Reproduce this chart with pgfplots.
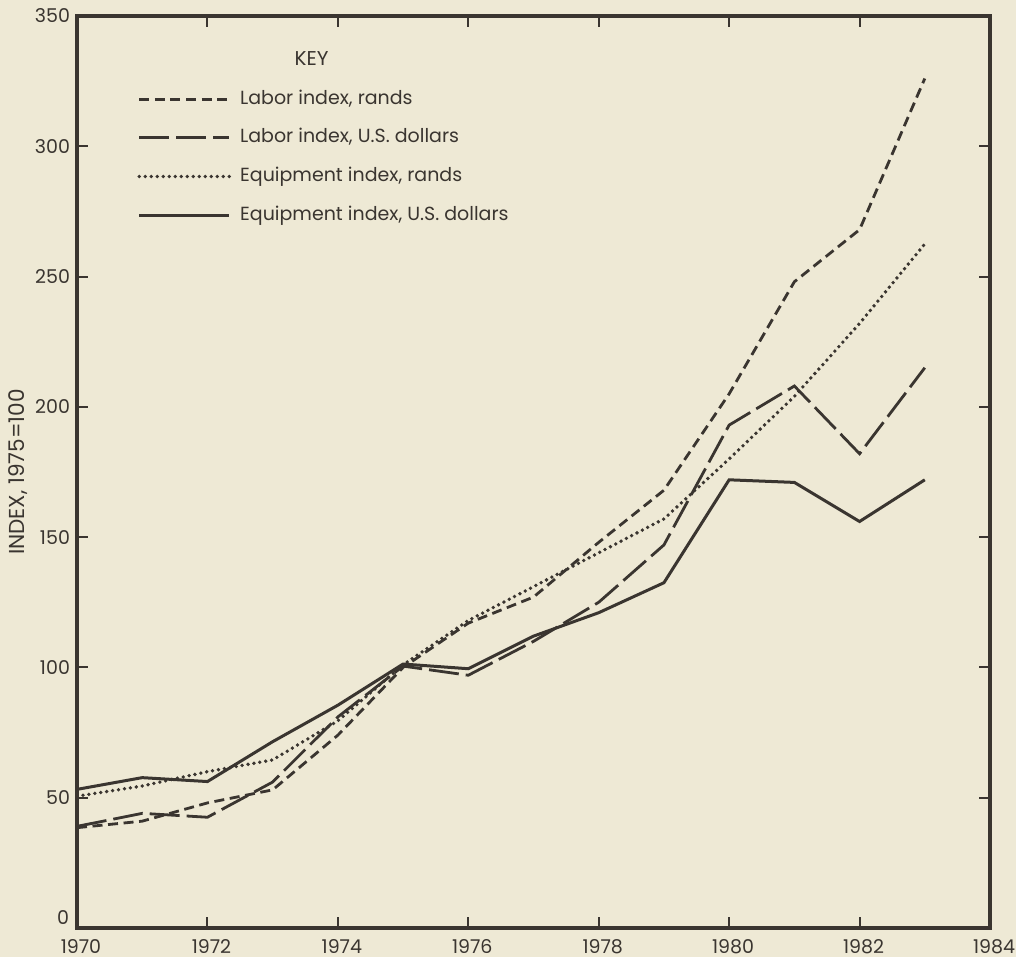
\documentclass[border=0pt]{standalone}
\usepackage{pgfplots}
\pgfplotsset{compat=1.18}
\usepackage{fontspec}
\setmainfont{Poppins}
\usetikzlibrary{backgrounds}
\definecolor{bg}{RGB}{238,233,213}
\definecolor{ink}{RGB}{58,53,48}
\begin{document}
\begin{tikzpicture}[show background rectangle, inner frame sep=0pt, background rectangle/.style={fill=bg, draw=none}]
\begin{axis}[
  name=ax,
  scale only axis, width=456.5pt, height=456pt,
  xmin=1970, xmax=1984, ymin=0, ymax=350,
  xtick={1970,1972,...,1984}, ytick={0,50,...,350},
  yticklabels={,50,100,150,200,250,300,350},
  /pgf/number format/assume math mode=true,
  xticklabel style={/pgf/number format/1000 sep={}, font=\fontsize{9.5}{10}\selectfont, color=ink, inner sep=0.3pt, yshift=-5pt, xshift=2pt},
  yticklabel style={font=\fontsize{9.5}{10}\selectfont, color=ink},
  axis line style={line width=1.6pt, color=ink},
  tick style={line width=1pt, color=ink},
  tick align=inside,
  major tick length=5.5pt,
  clip=false,
  legend style={at={(rel axis cs:0.0657,0.919)}, anchor=north west, draw=none, fill=none,
     font=\fontsize{9.5}{10}\selectfont, text=ink, row sep=10.3pt, inner sep=0pt,
     nodes={inner sep=0pt, text height=7pt, text depth=2pt},
     /tikz/every odd column/.append style={column sep=4.5pt}},
  legend cell align=left,
  legend image code/.code={\draw[#1] (0pt,0pt) -- (45pt,0pt);},
]
\addplot[ink, line width=1.4pt, dash pattern=on 5pt off 2.8pt] coordinates {
(1970,38.5) (1971,41) (1972,48) (1973,53) (1974,74) (1975,100) (1976,117) (1977,127)
(1978,148) (1979,168) (1980,205) (1981,248) (1982,268) (1983,326)};
\addlegendentry{Labor index, rands}
\addplot[ink, line width=1.4pt, dash pattern=on 15pt off 3.5pt] coordinates {
(1970,39) (1971,44) (1972,42.5) (1973,56) (1974,81) (1975,100.5) (1976,97) (1977,110)
(1978,125) (1979,147) (1980,193) (1981,208) (1982,182) (1983,215)};
\addlegendentry{Labor index, U.S. dollars}
\addplot[ink, line width=1.9pt, line cap=round, dash pattern=on 0pt off 3pt] coordinates {
(1970,50.6) (1971,54.5) (1972,60) (1973,64.5) (1974,79.5) (1975,101) (1976,118) (1977,131)
(1978,144) (1979,157) (1980,180) (1981,204) (1982,232) (1983,262.5)};
\addlegendentry{Equipment index, rands}
\addplot[ink, line width=1.5pt] coordinates {
(1970,53.2) (1971,57.7) (1972,56.2) (1973,71.5) (1974,85.5) (1975,101.3) (1976,99.5) (1977,112)
(1978,121) (1979,132.5) (1980,172) (1981,171) (1982,156) (1983,172)};
\addlegendentry{Equipment index, U.S. dollars}
\node[font=\fontsize{10}{11}\selectfont, text=ink] at (rel axis cs:0.257,0.953) {KEY};
\node[font=\fontsize{9.5}{10}\selectfont, text=ink] at ([xshift=-7pt,yshift=5pt]rel axis cs:0,0) {0};
\node[rotate=90, font=\fontsize{10.8}{12}\selectfont, text=ink] at ([xshift=-29.5pt]rel axis cs:0,0.5) {INDEX, 1975=100};
\end{axis}
\pgfresetboundingbox
\path ([shift={(-38.5pt,-14.5pt)}]ax.south west) rectangle ([shift={(13pt,8pt)}]ax.north east);
\end{tikzpicture}
\end{document}
